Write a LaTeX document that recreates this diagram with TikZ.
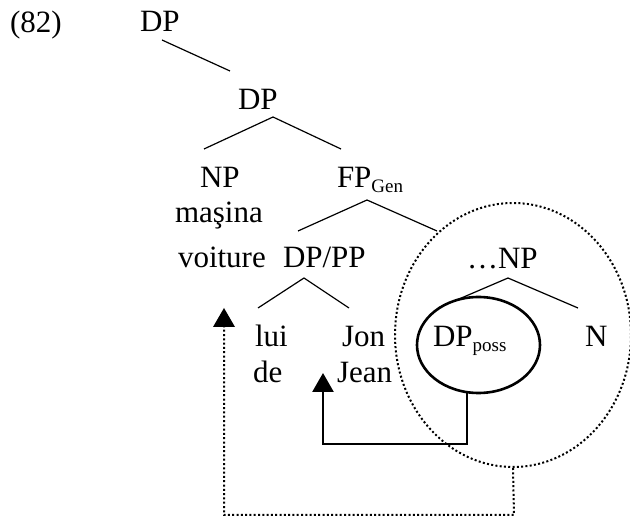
\documentclass[tikz,border=0pt]{standalone}
\usepackage{fontspec}
\setmainfont{Liberation Serif}
\usetikzlibrary{arrows.meta,shapes.geometric}
\newcommand{\lbl}[1]{\raisebox{-5pt}{\fontsize{19}{20}\selectfont #1}}
\tikzset{
  lab/.style={anchor=base west,inner sep=0pt,outer sep=0pt,font=\fontsize{31}{37}\selectfont},
  branch/.style={line width=1.2pt},
  thick solid/.style={line width=2.6pt},
  dotline/.style={line width=2pt,dash pattern=on 2pt off 2.3pt},
}
\begin{document}
\begin{tikzpicture}[x=1pt,y=-1pt]
\useasboundingbox (0,0) rectangle (630,518);
% labels
\node[lab] (ex) at (10,33) {(82)};
\node[lab] (dp1) at (140,32) {DP};
\node[lab] (dp2) at (238,110) {DP};
\node[lab] (np) at (200,188) {NP};
\node[lab] (fp) at (337,188) {FP\lbl{Gen}};
\node[lab] (masina) at (175,223) {maşina};
\node[lab] (voiture) at (178,268) {voiture};
\node[lab] (dppp) at (283,268) {DP/PP};
\node[lab] (npb) at (467,269) {…NP};
\node[lab] (lui) at (255,347) {lui};
\node[lab] (jon) at (342,347) {Jon};
\node[lab] (de) at (253,383) {de};
\node[lab] (jean) at (337,383) {Jean};
\node[lab] (n) at (585,347) {N};
% tree coordinates
\coordinate (a1) at (162,40);  \coordinate (a2) at (230,71);
\coordinate (b0) at (273,117); \coordinate (b1) at (204,149); \coordinate (b2) at (341,149);
\coordinate (c0) at (367,200); \coordinate (c1) at (298,231); \coordinate (c2) at (437,231);
\coordinate (d0) at (304,278); \coordinate (d1) at (258,308); \coordinate (d2) at (349,308);
\coordinate (e0) at (508,278); \coordinate (e1) at (438,308); \coordinate (e2) at (578,308);
\draw[branch] (a1) -- (a2);
\draw[branch] (b1) -- (b0) -- (b2);
\draw[branch] (c1) -- (c0) -- (c2);
\draw[branch] (d1) -- (d0) -- (d2);
\draw[branch] (e1) -- (e0) -- (e2);
% big dotted circle
\node[ellipse,dotline,draw,minimum width=236pt,minimum height=264pt,inner sep=0pt] (big) at (513,335) {};
% solid ellipse around DP_poss
\node[ellipse,thick solid,draw,fill=white,minimum width=123pt,minimum height=96pt,inner sep=0pt] (poss) at (478.5,345) {};
\node[lab] (dpposs) at (433,347) {DP\lbl{poss}};
% solid arrow
\coordinate (s0) at (467,393);
\coordinate (s1) at (467,444);
\coordinate (s2) at (323,444);
\coordinate (s3) at (323,373);
\draw[thick solid,-{Triangle[width=21pt,length=19pt]}] (s0) -- (s1) -- (s2) -- (s3);
% dotted arrow
\coordinate (t1) at (514,515);
\coordinate (t2) at (224,515);
\coordinate (t3) at (224,308);
\coordinate (t3b) at (224,327);
\coordinate (t3l) at (213,327);
\coordinate (t3r) at (235,327);
\draw[dotline] (big.south) -- (t1) -- (t2) -- (t3b);
\fill (t3l) -- (t3) -- (t3r) -- cycle;
\end{tikzpicture}
\end{document}
